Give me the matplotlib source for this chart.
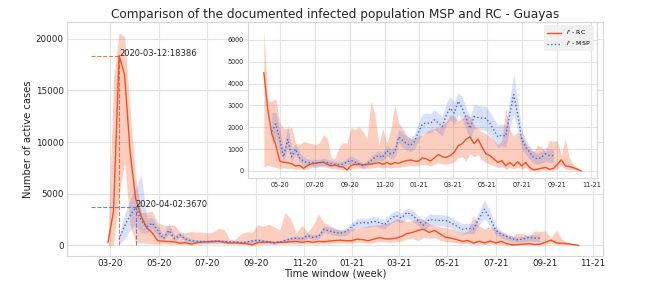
import numpy as np
import pandas as pd
import matplotlib
matplotlib.use("Agg")
import matplotlib.pyplot as plt
import matplotlib.dates as mdates

# Weekly active cases, RC (registro civil) - starts 2020-02-27
rc = [300, 3300, 18386, 16500, 9000, 4500, 2800, 1700, 1200, 450,
      400, 370, 330, 220, 260, 120, 250, 320, 350, 380,
      400, 300, 230, 270, 200, 180, 50, 250, 300, 310,
      280, 300, 310, 350, 380, 300, 380, 300, 380, 350,
      420, 470, 500, 450, 450, 600, 550, 450, 600, 750,
      650, 620, 700, 850, 1150, 1250, 1450, 1560, 1250, 1450,
      1100, 780, 700, 550, 390, 470, 230, 390, 230, 420,
      230, 390, 160, 50, 80, 120, 160, 80, 110, 300,
      510, 230, 200, 150, 80, 0]
rc_lo = [0, 0, 5000, 8000, 2000, 200, 250, 200, 150, 100,
         150, 100, 120, 80, 100, 50, 100, 150, 150, 180,
         200, 150, 100, 120, 80, 60, 0, 100, 120, 130,
         100, 120, 130, 150, 180, 120, 170, 130, 170, 150,
         200, 220, 250, 220, 230, 300, 280, 230, 300, 380,
         320, 300, 350, 420, 600, 650, 450, 800, 650, 750,
         500, 380, 300, 250, 150, 200, 80, 150, 80, 180,
         80, 150, 40, 0, 20, 40, 50, 20, 30, 100,
         250, 80, 70, 50, 20, 0]
rc_hi = [600, 16000, 20600, 20200, 13000, 6500, 3200, 3200, 3300, 2200,
         1950, 1950, 2000, 1270, 1200, 1350, 1300, 1270, 1200, 1300,
         1660, 1500, 580, 600, 1100, 1300, 1270, 2000, 1870, 2030,
         1800, 1480, 3200, 2570, 1200, 1950, 1270, 1900, 3040, 2200,
         1950, 1640, 1480, 1500, 1600, 1650, 1790, 1900, 1950, 2000,
         2100, 2260, 2570, 2500, 2300, 2400, 2600, 2500, 2100, 1900,
         1800, 1700, 1600, 1400, 1200, 1400, 2900, 1900, 1600, 1800,
         1600, 1300, 1000, 900, 1170, 1100, 900, 1400, 1350, 1400,
         700, 1480, 600, 300, 150, 0]

# MSP series - starts 2020-03-12
msp = [580, 1900, 2900, 3670, 2400, 1800, 2150, 1450, 650, 1450,
       650, 1000, 600, 450, 380, 370, 360, 380, 400, 380,
       330, 300, 280, 310, 420, 480, 400, 330, 230, 320,
       470, 620, 700, 620, 930, 780, 850, 1560, 1400, 1250,
       1170, 1350, 1790, 2150, 2200, 2180, 2340, 2200, 2030, 2570,
       2880, 2650, 3190, 2880, 2410, 1950, 2490, 2450, 2420, 2410,
       2180, 1870, 1560, 1640, 1600, 2600, 3500, 2600, 1480, 1090,
       860, 620, 545, 620, 780, 700, 700]
msp_lo = [100, 600, 1500, 2000, 1200, 1200, 1500, 860, 450, 1100,
          400, 780, 400, 300, 230, 230, 220, 230, 250, 230,
          200, 180, 160, 180, 270, 320, 250, 200, 120, 190,
          320, 430, 500, 430, 700, 560, 620, 1250, 1100, 950,
          870, 1000, 1400, 1700, 1750, 1750, 1900, 1750, 1600, 2100,
          2350, 2150, 2600, 2350, 1900, 1400, 1950, 1900, 1870, 1850,
          1650, 1350, 1050, 1150, 1100, 2000, 2600, 1900, 1050, 750,
          550, 350, 300, 350, 450, 400, 400]
msp_hi = [1000, 3000, 4500, 5500, 6900, 2650, 2700, 1900, 1000, 2100,
          1000, 1250, 850, 650, 550, 530, 520, 540, 570, 540,
          480, 450, 420, 460, 600, 680, 580, 480, 360, 470,
          650, 830, 920, 830, 1200, 1030, 1100, 1900, 1750, 1580,
          1500, 1700, 2200, 2600, 2650, 2620, 2800, 2650, 2480, 3100,
          3400, 3150, 3600, 3400, 2900, 2450, 3050, 3000, 2980, 2950,
          2700, 2400, 2100, 2150, 2100, 3300, 4450, 3300, 1900, 1450,
          1150, 900, 800, 900, 1100, 1000, 1000]

RC_COLOR = "#f4511e"
MSP_COLOR = "#4169e1"

weeks = pd.date_range("2020-02-27", periods=len(rc), freq="7D")
msp_weeks = weeks[2:2 + len(msp)]


def style(a, fs, pad):
    a.grid(True, color="#e3e3e3", lw=0.8)
    a.set_axisbelow(True)
    for s in a.spines.values():
        s.set_color("#d6d6d6")
        s.set_linewidth(0.8)
    a.tick_params(length=0, labelsize=fs, pad=pad, colors="#262626")
    a.xaxis.set_major_locator(mdates.MonthLocator(bymonth=range(1, 13, 2)))
    a.xaxis.set_major_formatter(mdates.DateFormatter("%m-%y"))


def draw(a, w, r, rl, rh, mw, m, ml, mh):
    a.fill_between(w, rl, rh, color=RC_COLOR, alpha=0.28, lw=0)
    a.plot(w, r, color=RC_COLOR, lw=1.0, label=r"$I'$ - RC")
    a.fill_between(mw, ml, mh, color=MSP_COLOR, alpha=0.2, lw=0)
    a.plot(mw, m, color=MSP_COLOR, lw=1.0, ls=":", label=r"$I'$ - MSP")


fig = plt.figure(figsize=(6.47, 2.93), dpi=100)
ax = fig.add_axes([0.1036, 0.1263, 0.8284, 0.7986])
style(ax, 6.3, 2.5)
draw(ax, weeks, rc, rc_lo, rc_hi, msp_weeks, msp, msp_lo, msp_hi)

# peak markers
x0 = weeks[0] - pd.Timedelta(days=21)
for dates, vals, col in [(weeks, rc, RC_COLOR), (msp_weeks, msp, MSP_COLOR)]:
    k = int(np.argmax(vals))
    d, v = dates[k], vals[k]
    ax.hlines(v, x0, d, colors=col, linestyles="--", lw=0.8, alpha=0.8)
    ax.vlines(d, 0, v, colors=col, linestyles="--", lw=0.8, alpha=0.8)
    ax.text(d, v, f"{d:%Y-%m-%d}:{v}", fontsize=6, color="#262626")

ax.set_title("Comparison of the documented infected population MSP and RC - Guayas",
             fontsize=8.7, pad=3, color="#262626")
ax.set_xlabel("Time window (week)", fontsize=7.2, labelpad=0, color="#262626")
ax.set_ylabel("Number of active cases", fontsize=7.2, labelpad=2, color="#262626")

# inset, without the first weeks
ins = fig.add_axes([0.3833, 0.3925, 0.5394, 0.5325])
ins.set_facecolor("white")
style(ins, 4.7, 3)
draw(ins, weeks[5:], rc[5:], rc_lo[5:], rc_hi[5:],
     msp_weeks[5:], msp[5:], msp_lo[5:], msp_hi[5:])
leg = ins.legend(loc="upper right", fontsize=4.5, frameon=True, handlelength=2.2,
                 borderpad=0.5, labelspacing=0.3)
leg.get_frame().set_facecolor("#eeeeee")
leg.get_frame().set_edgecolor("none")

fig.savefig("out.png", dpi=100)
